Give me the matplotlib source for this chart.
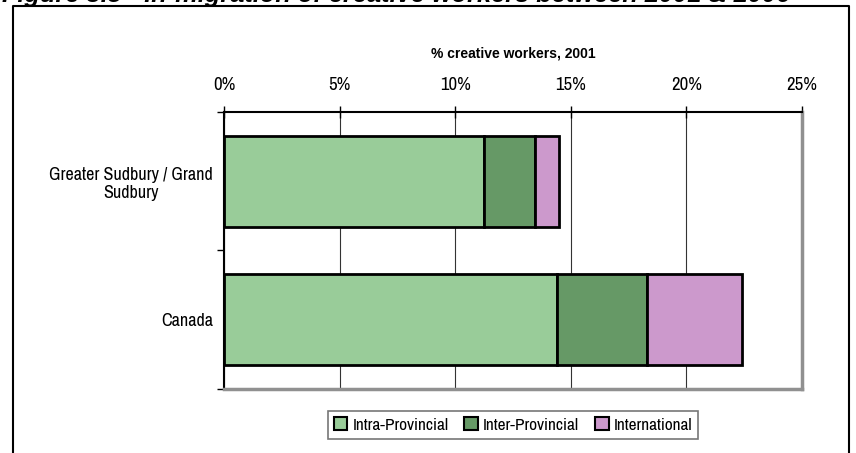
import numpy as np
import matplotlib.pyplot as plt
from matplotlib import font_manager
from matplotlib.patches import Patch
from matplotlib.lines import Line2D

# prefer a narrow sans face when one is installed
narrow = sorted({f.name for f in font_manager.fontManager.ttflist
                 if 'Narrow' in f.name or 'Condensed' in f.name})
body_font = narrow[0] if narrow else 'Liberation Sans'
plt.rcParams['font.family'] = [body_font, 'Liberation Sans', 'DejaVu Sans']
body_size = 13 if narrow else 10.5

# data
places = ['Greater Sudbury / Grand\nSudbury', 'Canada']
intra_provincial = [11.25, 14.4]
inter_provincial = [2.2, 3.9]
international = [1.05, 4.1]
series_names = ['Intra-Provincial', 'Inter-Provincial', 'International']
series_colors = ['#99CC99', '#669966', '#CC99CC']

fig = plt.figure(figsize=(8.56, 4.53), dpi=100)
ax = fig.add_axes([224 / 856, 64 / 453, 578 / 856, 277 / 453])

y_pos = np.arange(len(places)) + 0.5
left = np.zeros(len(places))
for vals, name, col in zip([intra_provincial, inter_provincial, international], series_names, series_colors):
    ax.barh(y_pos, vals, left=left, height=0.66, color=col, edgecolor='black',
            linewidth=2, label=name, zorder=3)
    left += np.array(vals)

ax.set_xlim(0, 25)
ax.set_ylim(2, 0)
ax.xaxis.tick_top()
ax.xaxis.set_label_position('top')
ax.set_xticks(np.arange(0, 26, 5))
ax.set_xticklabels([f'{v}%' for v in range(0, 26, 5)], fontsize=body_size + 0.5)
ax.tick_params(axis='x', direction='inout', length=8, width=1, pad=10)
ax.set_xlabel('% creative workers, 2001', fontsize=10, fontweight='bold',
              family='Liberation Sans', labelpad=14)

# category labels sit between boundary ticks
ax.set_yticks([0, 1, 2])
ax.set_yticklabels([])
ax.tick_params(axis='y', which='major', direction='out', length=5, width=1)
ax.set_yticks(y_pos, minor=True)
ax.set_yticklabels(places, minor=True, fontsize=body_size, ha='right', multialignment='center')
ax.tick_params(axis='y', which='minor', length=0, pad=8)

ax.grid(axis='x', color='#333333', linewidth=0.8, zorder=0)

ax.spines['left'].set_color('black')
ax.spines['left'].set_linewidth(1.5)
ax.spines['top'].set_color('black')
ax.spines['top'].set_linewidth(1.5)
ax.spines['right'].set_color('#909090')
ax.spines['right'].set_linewidth(2.5)
ax.spines['bottom'].set_color('#909090')
ax.spines['bottom'].set_linewidth(2.5)

handles = [Patch(facecolor=c, edgecolor='black', linewidth=1.5, label=n)
           for c, n in zip(series_colors, series_names)]
leg = ax.legend(handles=handles, loc='upper center', bbox_to_anchor=(0.5, -0.048),
                ncol=3, fontsize=body_size - 0.6, frameon=True, fancybox=False,
                handlelength=0.8, handleheight=0.8, handletextpad=0.3,
                columnspacing=0.9, borderpad=0.35)
leg.get_frame().set_edgecolor('#555555')
leg.get_frame().set_linewidth(1.2)

# outer frame and clipped heading
x0, x1, ytop = 13 / 856, 849 / 856, 1 - 6 / 453
fig.add_artist(Line2D([x0, x0, x1, x1], [0, ytop, ytop, 0], color='black',
                      linewidth=1.5, transform=fig.transFigure))
fig.text(2 / 856, 1 - 2 / 453, 'Figure 3.5 - In-migration of creative workers between 2001 & 2006',
         fontsize=18.3, fontweight='bold', fontstyle='italic', family='Liberation Sans',
         va='baseline', ha='left')

fig.savefig('out.png', dpi=100)
